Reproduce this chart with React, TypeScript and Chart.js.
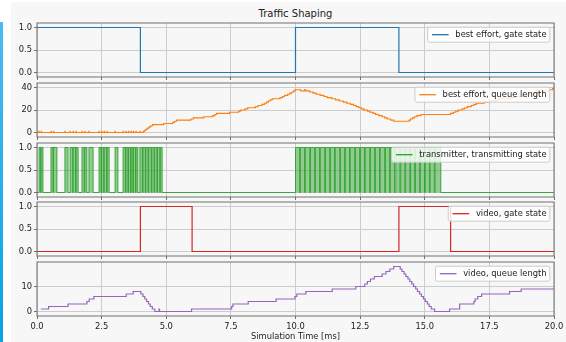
import React, { useEffect, useRef } from "react";
import { Chart, registerables } from "chart.js";
Chart.register(...registerables);

const TITLE = "Traffic Shaping";
const X_LABEL = "Simulation Time [ms]";
const X_TICKS = [0, 2.5, 5, 7.5, 10, 12.5, 15, 17.5, 20];
const GATE_TICKS = [0, 0.5, 1];
const BE_QUEUE_TICKS = [0, 20, 40];
const VIDEO_QUEUE_TICKS = [0, 10];

// [time ms, value] — value holds from this time until the next point
const beGateState: number[][] = [[0, 1], [4, 0], [10, 1], [14, 0], [20, 0]];
const videoGateState: number[][] = [[0, 0], [4, 1], [6, 0], [14, 1], [16, 0], [20, 0]];

const beQueueLength: number[][] = [
  [0, 0],
  [0.08, 1], [0.09, 0], [0.16, 1], [0.17, 0], [0.54, 1], [0.55, 0], [0.64, 1], [0.65, 0],
  [1.08, 1], [1.09, 0], [1.28, 1], [1.29, 0], [1.40, 1], [1.41, 0], [1.51, 1], [1.52, 0],
  [1.74, 1], [1.75, 0], [1.85, 1], [1.86, 0], [2.01, 1], [2.02, 0], [2.40, 1], [2.41, 0],
  [2.50, 1], [2.51, 0], [2.60, 1], [2.61, 0], [2.71, 1], [2.72, 0], [3.02, 1], [3.03, 0],
  [3.33, 1], [3.34, 0], [3.44, 1], [3.45, 0], [3.54, 1], [3.55, 0], [3.64, 1], [3.65, 0],
  [3.73, 1], [3.74, 0], [3.83, 1], [3.84, 0], [3.98, 1], [3.99, 0],
  [4.10, 1], [4.16, 2], [4.22, 3], [4.28, 4], [4.34, 5], [4.40, 6], [4.47, 7], [4.90, 8],
  [5.25, 9], [5.32, 10], [5.40, 11], [5.95, 12], [6.05, 13], [6.45, 14], [6.80, 15], [6.88, 16],
  [6.95, 17], [7.45, 18], [7.80, 19], [7.88, 20], [8.05, 21], [8.15, 22], [8.45, 23], [8.55, 24],
  [8.70, 25], [8.80, 26], [8.88, 27], [8.95, 28], [9.02, 29], [9.10, 30], [9.40, 31], [9.50, 32],
  [9.58, 33], [9.70, 34], [9.78, 35], [9.86, 36], [9.93, 37], [9.98, 38],
  [10.20, 37], [10.35, 38], [10.40, 37], [10.55, 36], [10.68, 35], [10.80, 34], [10.95, 33],
  [11.10, 32], [11.22, 31], [11.40, 30], [11.55, 29], [11.70, 28], [11.85, 27], [11.98, 26],
  [12.12, 25], [12.25, 24], [12.35, 23], [12.45, 22], [12.55, 21], [12.65, 20], [12.78, 19],
  [12.88, 18], [13.00, 17], [13.10, 16], [13.22, 15], [13.35, 14], [13.45, 13], [13.55, 12],
  [13.68, 11], [13.80, 10], [14.40, 11], [14.45, 12], [14.52, 13], [14.60, 14], [14.70, 15],
  [14.85, 16], [16.00, 17], [16.10, 18], [16.20, 19], [16.30, 20], [16.45, 21], [16.55, 22],
  [16.65, 23], [16.80, 24], [16.90, 25], [17.00, 26], [17.30, 27], [17.50, 28], [17.75, 29],
  [17.85, 30], [18.30, 31], [18.50, 32], [18.80, 33], [19.00, 34], [19.20, 35], [19.40, 36],
  [19.60, 37], [19.80, 38], [19.95, 39], [20, 39],
];

// times at which the transmitter toggles (starts idle)
const txToggleTimes: number[] = [
  0.08, 0.14, 0.16, 0.23, 0.54, 0.62, 0.64, 0.77, 1.08, 1.20, 1.28, 1.38, 1.40, 1.49, 1.51, 1.59,
  1.74, 1.83, 1.85, 1.93, 2.01, 2.17, 2.40, 2.48, 2.50, 2.58, 2.60, 2.69, 2.71, 2.79, 3.02, 3.13,
  3.33, 3.42, 3.44, 3.52, 3.54, 3.62, 3.64, 3.71, 3.73, 3.81, 3.83, 3.90,
  3.98, 4.08, 4.10, 4.19, 4.21, 4.30, 4.32, 4.42, 4.44, 4.53, 4.55, 4.64, 4.66, 4.75, 4.77, 4.84,
  10.00, 10.16, 10.19, 10.35, 10.38, 10.55, 10.58, 10.74, 10.77, 10.93, 10.96, 11.13, 11.16, 11.32,
  11.35, 11.51, 11.54, 11.71, 11.74, 11.90, 11.93, 12.09, 12.12, 12.29, 12.32, 12.48, 12.51, 12.67,
  12.70, 12.87, 12.90, 13.06, 13.09, 13.25, 13.28, 13.45, 13.48, 13.64, 13.67, 13.83, 13.88, 14.04,
  14.07, 14.23, 14.26, 14.42, 14.45, 14.61, 14.64, 14.80, 14.83, 14.99, 15.02, 15.18, 15.21, 15.37,
  15.40, 15.62,
];

const videoQueueLength: number[][] = [
  [0.15, 1], [0.45, 2], [1.20, 3], [1.93, 4], [2.02, 5], [2.20, 6], [3.45, 7], [3.72, 8],
  [4.02, 7], [4.10, 6], [4.17, 5], [4.24, 4], [4.31, 3], [4.38, 2], [4.46, 1], [4.56, 0],
  [4.72, 1], [4.74, 0], [5.98, 1], [7.53, 2], [7.58, 3], [8.17, 4], [9.25, 5], [9.98, 6],
  [10.05, 7], [10.40, 8], [11.42, 9], [12.33, 10], [12.68, 11], [12.78, 12], [12.90, 13],
  [13.05, 14], [13.35, 15], [13.50, 16], [13.65, 17], [13.80, 18], [14.05, 17], [14.12, 16],
  [14.20, 15], [14.27, 14], [14.35, 13], [14.42, 12], [14.50, 11], [14.57, 10], [14.65, 9],
  [14.72, 8], [14.80, 7], [14.87, 6], [14.95, 5], [15.02, 4], [15.10, 3], [15.17, 2],
  [15.25, 1], [15.38, 0], [15.96, 1], [16.35, 3], [16.90, 4], [16.95, 5], [17.05, 6],
  [17.20, 7], [18.28, 8], [18.73, 9], [20, 9],
];

function togglesToPoints(toggles: number[]): number[][] {
  const pts: number[][] = [[0, 0]];
  let state = 0;
  for (const t of toggles) {
    state = 1 - state;
    pts.push([t, state]);
  }
  pts.push([20, state]);
  return pts;
}

type PanelCfg = {
  label: string;
  color: string;
  fillColor?: string;
  lineWidth: number;
  points: number[][];
  yMin: number;
  yMax: number;
  yTicks: number[];
  decimals: number;
};

const PANELS: PanelCfg[] = [
  { label: "best effort, gate state", color: "#1f77b4", lineWidth: 1.2, points: beGateState, yMin: -0.1, yMax: 1.1, yTicks: GATE_TICKS, decimals: 1 },
  { label: "best effort, queue length", color: "#ff7f0e", lineWidth: 1.2, points: beQueueLength, yMin: -4, yMax: 44, yTicks: BE_QUEUE_TICKS, decimals: 0 },
  { label: "transmitter, transmitting state", color: "#2ca02c", fillColor: "rgba(44,160,44,0.5)", lineWidth: 0.9, points: togglesToPoints(txToggleTimes), yMin: -0.1, yMax: 1.1, yTicks: GATE_TICKS, decimals: 1 },
  { label: "video, gate state", color: "#d62728", lineWidth: 1.2, points: videoGateState, yMin: -0.1, yMax: 1.1, yTicks: GATE_TICKS, decimals: 1 },
  { label: "video, queue length", color: "#9467bd", lineWidth: 1.2, points: videoQueueLength, yMin: -1.8, yMax: 19.8, yTicks: VIDEO_QUEUE_TICKS, decimals: 0 },
];

const FONT_FAMILY = '"DejaVu Sans", sans-serif';
const FS = 8.33;
const TEXT_COLOR = "#222222";
const SPINE = "#707070";
const GRID = "#cccccc";
const PLOT_LEFT = 37;
const PLOT_RIGHT = 554;
const PLOT_H = 54;
const PLOT_TOPS = [23, 83, 143, 202, 262];

function zeroPadding(s: any) {
  s.paddingTop = 0;
  s.paddingBottom = 0;
  s.paddingLeft = 0;
  s.paddingRight = 0;
}

function Panel({ cfg, top, bottom }: { cfg: PanelCfg; top: number; bottom: boolean }) {
  const ref = useRef<HTMLCanvasElement>(null);
  const padTop = 2;
  const xAxisH = bottom ? 27 : 4;
  const w = bottom ? 600 : 560;
  const h = padTop + PLOT_H + xAxisH;

  useEffect(() => {
    const framePlugin = {
      id: "frame",
      afterDatasetsDraw(chart: any) {
        const { ctx, chartArea: a } = chart;
        ctx.save();
        ctx.strokeStyle = SPINE;
        ctx.lineWidth = 1;
        ctx.strokeRect(a.left, a.top, a.right - a.left, a.bottom - a.top);
        ctx.restore();
      },
    };
    const legendPlugin = {
      id: "innerLegend",
      afterDraw(chart: any) {
        const { ctx, chartArea: a } = chart;
        ctx.save();
        ctx.font = `${FS}px ${FONT_FAMILY}`;
        const tw = ctx.measureText(cfg.label).width;
        const pad = 3.3;
        const hl = 16.7;
        const htp = 6.7;
        const bw = tw + 2 * pad + hl + htp + 1;
        const bh = 15;
        const bx = a.right - 4.2 - bw;
        const by = a.top + 4.2;
        ctx.beginPath();
        (ctx as any).roundRect(bx, by, bw, bh, 2);
        ctx.fillStyle = "rgba(255,255,255,0.8)";
        ctx.fill();
        ctx.strokeStyle = "#cccccc";
        ctx.lineWidth = 1;
        ctx.stroke();
        const cy = by + bh / 2;
        ctx.beginPath();
        ctx.moveTo(bx + pad + 1, cy);
        ctx.lineTo(bx + pad + 1 + hl, cy);
        ctx.strokeStyle = cfg.color;
        ctx.lineWidth = 1.3;
        ctx.stroke();
        ctx.fillStyle = TEXT_COLOR;
        ctx.textBaseline = "middle";
        ctx.textAlign = "left";
        ctx.fillText(cfg.label, bx + pad + 1 + hl + htp, cy + 0.5);
        ctx.restore();
      },
    };

    const chart = new Chart(ref.current as HTMLCanvasElement, {
      type: "line",
      data: {
        datasets: [
          {
            label: cfg.label,
            data: cfg.points.map(([x, y]) => ({ x, y })),
            borderColor: cfg.color,
            backgroundColor: cfg.fillColor || "transparent",
            fill: cfg.fillColor ? "origin" : false,
            borderWidth: cfg.lineWidth,
            pointRadius: 0,
            stepped: true,
          } as any,
        ],
      },
      options: {
        responsive: false,
        animation: false,
        events: [],
        layout: {
          autoPadding: false,
          padding: { top: padTop, left: 0, right: w - PLOT_RIGHT, bottom: 0 },
        } as any,
        plugins: { legend: { display: false }, tooltip: { enabled: false } },
        scales: {
          x: {
            type: "linear",
            min: 0,
            max: 20,
            afterBuildTicks: (s: any) => {
              s.ticks = X_TICKS.map((v) => ({ value: v }));
            },
            afterFit: (s: any) => {
              s.height = xAxisH;
              zeroPadding(s);
            },
            grid: { color: GRID, lineWidth: 1, tickColor: SPINE, tickLength: 3, drawTicks: true },
            border: { display: false },
            ticks: {
              display: bottom,
              padding: 2.5,
              color: TEXT_COLOR,
              font: { family: FONT_FAMILY, size: FS },
              maxRotation: 0,
              autoSkip: false,
              callback: (v: any) => Number(v).toFixed(1),
            },
            title: {
              display: bottom,
              text: X_LABEL,
              color: TEXT_COLOR,
              font: { family: FONT_FAMILY, size: FS, lineHeight: 1.2 },
              padding: { top: 0, bottom: 1 },
            },
          },
          y: {
            type: "linear",
            min: cfg.yMin,
            max: cfg.yMax,
            afterBuildTicks: (s: any) => {
              s.ticks = cfg.yTicks.map((v) => ({ value: v }));
            },
            afterFit: (s: any) => {
              s.width = PLOT_LEFT;
              zeroPadding(s);
            },
            grid: { color: GRID, lineWidth: 1, tickColor: SPINE, tickLength: 3, drawTicks: true },
            border: { display: false },
            ticks: {
              padding: 2,
              color: TEXT_COLOR,
              font: { family: FONT_FAMILY, size: FS },
              autoSkip: false,
              callback: (v: any) => Number(v).toFixed(cfg.decimals),
            },
          },
        },
      } as any,
      plugins: [framePlugin, legendPlugin],
    });
    return () => chart.destroy();
  }, []);

  return (
    <canvas
      ref={ref}
      width={w}
      height={h}
      style={{ position: "absolute", left: 0, top: top - padTop, width: w, height: h }}
    />
  );
}

export default function App() {
  return (
    <div
      style={{
        position: "fixed",
        left: 0,
        top: 0,
        width: 566,
        height: 342,
        overflow: "hidden",
        background: "#ffffff",
      }}
    >
      <div
        style={{
          position: "absolute",
          left: 0,
          top: 22,
          width: 3,
          height: 320,
          background: "linear-gradient(#4cbbef, #08a3e6)",
        }}
      />
      <div
        style={{
          position: "absolute",
          left: 11,
          top: 2,
          width: 555,
          height: 340,
          background: "#f7f7f7",
        }}
      />
      <div
        style={{
          position: "absolute",
          left: 195.5,
          top: 8,
          width: 200,
          textAlign: "center",
          fontFamily: FONT_FAMILY,
          fontSize: 10,
          lineHeight: "12px",
          color: TEXT_COLOR,
        }}
      >
        {TITLE}
      </div>
      {PANELS.map((cfg, i) => (
        <Panel key={i} cfg={cfg} top={PLOT_TOPS[i]} bottom={i === PANELS.length - 1} />
      ))}
    </div>
  );
}
